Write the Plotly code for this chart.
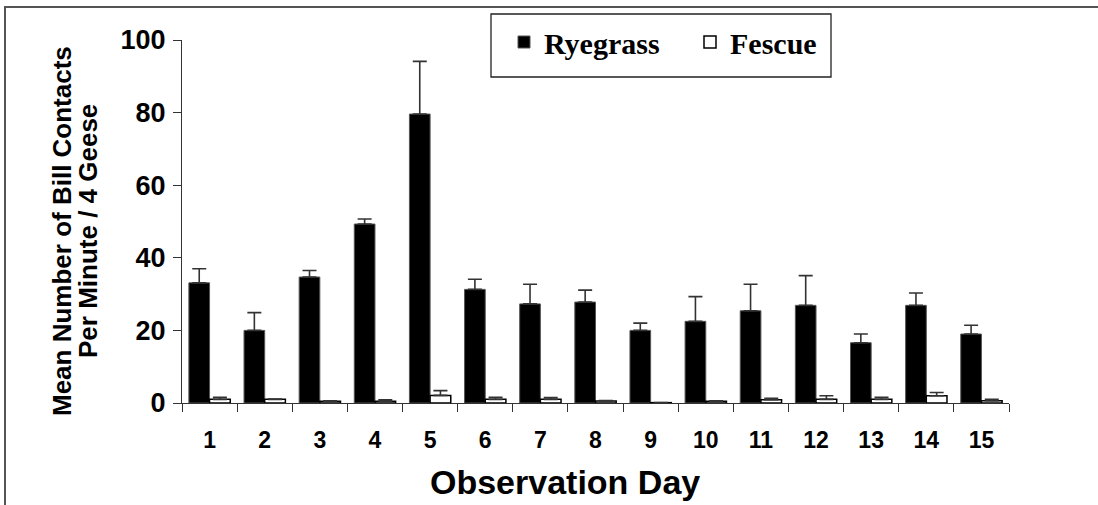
import plotly.graph_objects as go

days = [str(i) for i in range(1, 16)]
ryegrass = [33.1, 20.0, 34.7, 49.3, 79.6, 31.3, 27.3, 27.8, 20.0, 22.5, 25.4, 26.9, 16.6, 26.9, 19.0]
ryegrass_err = [3.9, 4.9, 1.8, 1.4, 14.5, 2.8, 5.4, 3.3, 2.0, 6.8, 7.3, 8.2, 2.4, 3.4, 2.4]
fescue = [1.0, 1.0, 0.5, 0.5, 2.1, 1.0, 1.0, 0.55, 0.1, 0.5, 0.9, 1.0, 1.0, 2.0, 0.6]
fescue_err = [0.6, 0.1, 0.1, 0.4, 1.3, 0.6, 0.5, 0.1, 0.0, 0.1, 0.4, 1.0, 0.6, 0.9, 0.4]
y_ticks = [0, 20, 40, 60, 80, 100]
x_title = "Observation Day"
y_title_lines = ["Mean Number of Bill Contacts", "Per Minute / 4 Geese"]

SANS = "Liberation Sans, Arial, sans-serif"
SERIF = "Liberation Serif, Times New Roman, serif"

W, H = 1098, 505
L, R, T, B = 182, 89, 40, 102
PW, PH = W - L - R, H - T - B


def px(xp):
    return (xp - L) / PW


def py(yp):
    return (H - B - yp) / PH


fig = go.Figure()
fig.add_trace(go.Bar(
    x=days, y=ryegrass, name="Ryegrass",
    marker=dict(color="#000000", line=dict(color="#555555", width=1)),
    error_y=dict(type="data", array=ryegrass_err, arrayminus=[0]*15, symmetric=False,
                 color="#333333", thickness=1.6, width=7),
))
fig.add_trace(go.Bar(
    x=days, y=fescue, name="Fescue",
    marker=dict(color="#ffffff", line=dict(color="#000000", width=1.5)),
    error_y=dict(type="data", array=fescue_err, arrayminus=[0]*15, symmetric=False,
                 color="#333333", thickness=1.6, width=7),
))

annotations = [
    dict(text=x_title, xref="paper", yref="paper", x=px(565), y=py(482),
         xanchor="center", yanchor="middle", showarrow=False,
         font=dict(family=SANS, size=34, color="black", weight="bold")),
    dict(text=y_title_lines[0], xref="paper", yref="paper", x=px(62), y=py(231),
         xanchor="center", yanchor="middle", showarrow=False, textangle=-90,
         font=dict(family=SANS, size=26, color="black", weight="bold")),
    dict(text=y_title_lines[1], xref="paper", yref="paper", x=px(88), y=py(231),
         xanchor="center", yanchor="middle", showarrow=False, textangle=-90,
         font=dict(family=SANS, size=26, color="black", weight="bold")),
]

fig.update_layout(
    width=W, height=H,
    margin=dict(l=L, r=R, t=T, b=B, autoexpand=False),
    paper_bgcolor="white", plot_bgcolor="white",
    barmode="group", bargap=0.25, bargroupgap=0,
    showlegend=True,
    legend=dict(orientation="h", xref="container", yref="container",
                x=504 / W, xanchor="left", y=1 - 16 / H, yanchor="top",
                font=dict(family=SERIF, size=30, color="black", weight="bold"),
                bgcolor="rgba(0,0,0,0)", borderwidth=0,
                entrywidth=141, entrywidthmode="pixels", itemwidth=30),
    xaxis=dict(
        type="category", tickson="boundaries", ticks="outside", ticklen=8, tickwidth=1.3,
        tickcolor="#333333", showline=True, linecolor="#333333", linewidth=1.3,
        showgrid=False, zeroline=False, automargin=False,
        tickfont=dict(family=SANS, size=23, color="black", weight="bold"),
        ticklabelstandoff=16,
    ),
    yaxis=dict(
        range=[0, 100], tickvals=y_ticks, ticks="outside", ticklen=8, tickwidth=1.3,
        tickcolor="#333333", showline=True, linecolor="#333333", linewidth=1.3,
        showgrid=False, zeroline=False, automargin=False,
        tickfont=dict(family=SANS, size=27, color="black", weight="bold"),
        ticklabelstandoff=2,
    ),
    annotations=annotations,
    shapes=[
        dict(type="rect", xref="paper", yref="paper",
             x0=px(5), x1=px(1110), y0=py(520), y1=py(7),
             line=dict(color="#555555", width=2), fillcolor="rgba(0,0,0,0)", layer="below"),
        dict(type="rect", xref="paper", yref="paper",
             x0=px(491), x1=px(831), y0=py(77), y1=py(14),
             line=dict(color="#222222", width=1.3), fillcolor="white", layer="below"),
    ],
)

fig.write_html("out.html", config={"displayModeBar": False},
               post_script="document.body.style.margin='0';document.body.style.overflow='hidden';")
